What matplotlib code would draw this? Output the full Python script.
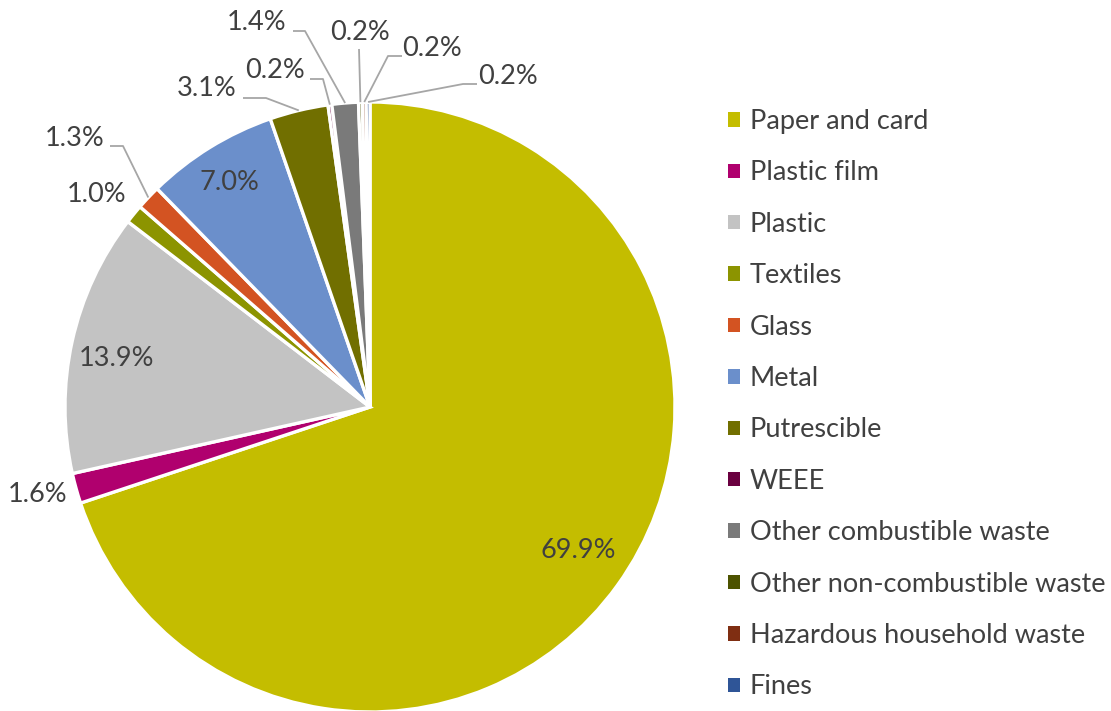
import matplotlib
matplotlib.use("Agg")
import matplotlib.pyplot as plt
from matplotlib.patches import Patch
import numpy as np

categories = ["Paper and card", "Plastic film", "Plastic", "Textiles", "Glass",
              "Metal", "Putrescible", "WEEE", "Other combustible waste",
              "Other non-combustible waste", "Hazardous household waste", "Fines"]
shares = [69.9, 1.6, 13.9, 1.0, 1.3, 7.0, 3.1, 0.2, 1.4, 0.2, 0.2, 0.2]
colors = ["#C4BD00", "#B0006E", "#C3C3C3", "#8C9400", "#D35322", "#6B8FCB",
          "#716F00", "#6A0040", "#7A7A7A", "#4D5300", "#7F2E12", "#2F5597"]

# label placement (pixel space, y measured from top) and whether a leader line is drawn
label_pos = [(578, 551), (38, 495), (117, 358), (97, 194), (75, 138), (229, 183),
             (207, 88), (275, 70), (257, 22), (360, 32), (432, 48), (508, 77)]
leader = [False, False, False, False, True, False, True, True, True, True, True, True]
# elbow of each leader line (pixel space)
elbow = {4: [(110, 146), (123, 146)], 6: [(243, 98), (266, 98)],
         7: [(310, 79), (323, 79)], 8: [(293, 31), (305, 31)],
         9: [(359, 49), (359, 49)], 10: [(402, 56), (388, 56)],
         11: [(477, 84), (463, 84)]}

W, H = 1111, 711
plt.rcParams["font.family"] = ["Lato", "DejaVu Sans"]
text_color = "#404040"
fs = 19.5

fig = plt.figure(figsize=(W / 100, H / 100), dpi=100)
ax = fig.add_axes([0, 0, 1, 1])

cx, cy, R = 370, 407, 305
# y axis runs downward, so startangle=-90 is 12 o'clock and counterclock=True turns clockwise
wedges, _ = ax.pie(shares, colors=colors, startangle=-90, counterclock=True,
                   center=(cx, cy), radius=R, frame=True,
                   wedgeprops=dict(edgecolor="white", linewidth=2.4))
ax.set_xlim(0, W)
ax.set_ylim(H, 0)
ax.set_aspect("equal")
ax.axis("off")

for i, (w, v) in enumerate(zip(wedges, shares)):
    lx, ly = label_pos[i]
    ax.text(lx, ly, f"{v:.1f}%", ha="center", va="center", fontsize=fs,
            color=text_color)
    if leader[i]:
        mid = np.deg2rad((w.theta1 + w.theta2) / 2)
        ex, ey = cx + R * np.cos(mid), cy + R * np.sin(mid)
        pts = elbow[i] + [(ex, ey)]
        xs, ys = zip(*pts)
        ax.plot(xs, ys, color="#A6A6A6", lw=1.3, solid_capstyle="butt")

handles = [Patch(facecolor=c, edgecolor="none") for c in colors]
leg = ax.legend(handles, categories, loc="upper left", bbox_to_anchor=(728 / W, 1 - 109 / H),
                frameon=False, fontsize=fs, handlelength=0.44, handleheight=0.44,
                handletextpad=0.37, labelspacing=0.975, borderaxespad=0, borderpad=0)
for t in leg.get_texts():
    t.set_color(text_color)

fig.savefig("out.png", dpi=100)
